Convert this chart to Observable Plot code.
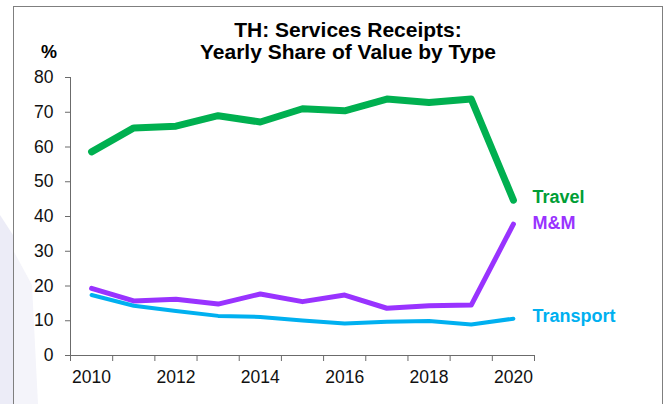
<!DOCTYPE html>
<html>
<head>
<meta charset="utf-8">
<script src="https://cdn.jsdelivr.net/npm/d3@7"></script>
<script src="https://cdn.jsdelivr.net/npm/@observablehq/plot@0.6"></script>
<style>
  html, body { margin: 0; padding: 0; background: #fff; }
  #wrap { position: relative; width: 669px; height: 404px; overflow: hidden; font-family: "Liberation Sans", Arial, sans-serif; }
  #deco { position: absolute; left: 0; top: 0; }
  #frame { position: absolute; left: 13px; top: 6px; width: 650px; height: 420px; border: 1px solid #7f7f7f; box-sizing: border-box; }
  #chart { position: absolute; left: 0; top: 0; }
  #title { position: absolute; left: 348px; top: 19px; transform: translateX(-50%); white-space: nowrap; text-align: center; font-weight: bold; font-size: 21px; line-height: 22px; color: #000; }
  #unit { position: absolute; left: 49px; top: 42px; transform: translateX(-50%); font-weight: bold; font-size: 18px; line-height: 20px; color: #000; }
</style>
</head>
<body>
<div id="wrap">
  <svg id="deco" width="669" height="404">
    <polygon points="0,215 13,235 13,404 0,404" fill="#ececf7"/>
    <polygon points="13,250 32,285 38,404 13,404" fill="#f4f4fa"/>
  </svg>
  <div id="frame"></div>
  <div id="chart"></div>
  <div id="title">TH: Services Receipts:<br>Yearly Share of Value by Type</div>
  <div id="unit">%</div>
</div>
<script>
const years = [2010, 2011, 2012, 2013, 2014, 2015, 2016, 2017, 2018, 2019, 2020];
const travel = [58.6, 65.5, 66.0, 69.0, 67.2, 71.0, 70.4, 73.8, 72.8, 73.8, 44.7];
const mm = [19.3, 15.7, 16.2, 14.8, 17.7, 15.5, 17.4, 13.6, 14.3, 14.5, 37.8];
const transport = [17.4, 14.3, 12.8, 11.4, 11.1, 10.1, 9.2, 9.7, 9.9, 8.9, 10.6];
const seriesNames = ["Travel", "M&M", "Transport"];
const yTicks = [0, 10, 20, 30, 40, 50, 60, 70, 80];
const xTickLabels = [2010, 2012, 2014, 2016, 2018, 2020];

const lineColors = {"Travel": "#00b050", "M&M": "#9933ff", "Transport": "#00b0f0"};
const labelColors = {"Travel": "#009e36", "M&M": "#9933ff", "Transport": "#00b0f0"};
const widths = {"Travel": 7, "M&M": 5, "Transport": 4};
const labelDy = {"Travel": -3, "M&M": -1, "Transport": -2};

const valuesBySeries = {"Travel": travel, "M&M": mm, "Transport": transport};
const rows = seriesNames.flatMap(s => years.map((yr, i) => ({series: s, year: yr, value: valuesBySeries[s][i]})));
const lastRows = seriesNames.map(s => ({series: s, year: years[years.length - 1], value: valuesBySeries[s][years.length - 1]}));

const xMin = years[0] - 0.5, xMax = years[years.length - 1] + 0.5;
const bandEdges = years.map(y => y - 0.5).concat([xMax]);

const axisColor = "#6b6b6b";

const marks = [
  Plot.ruleX([xMin], {y1: yTicks[0], y2: yTicks[yTicks.length - 1], stroke: axisColor}),
  Plot.ruleY([0], {stroke: axisColor}),
  Plot.axisY(yTicks, {tickSize: 5, tickPadding: 12, fontSize: 17.5, stroke: axisColor, fill: "#111", label: null}),
  Plot.axisX(bandEdges, {tickSize: 6, tickFormat: () => "", stroke: axisColor, label: null}),
  Plot.axisX(xTickLabels, {tickSize: 0, tickPadding: 15, fontSize: 17.5, fill: "#111", tickFormat: d => String(d), label: null})
];
for (const s of seriesNames) {
  marks.push(Plot.line(rows.filter(r => r.series === s), {
    x: "year", y: "value", stroke: lineColors[s], strokeWidth: widths[s],
    strokeLinecap: "round", strokeLinejoin: "round"
  }));
}
for (const s of seriesNames) {
  marks.push(Plot.text(lastRows.filter(r => r.series === s), {
    x: "year", y: "value", text: "series", textAnchor: "start", dx: 19, dy: labelDy[s],
    fill: labelColors[s], fontWeight: "bold", fontSize: 18
  }));
}

const chart = Plot.plot({
  width: 669,
  height: 404,
  marginLeft: 70,
  marginRight: 135,
  marginTop: 77,
  marginBottom: 49,
  style: {fontFamily: "'Liberation Sans', Arial, sans-serif", background: "transparent", color: "#111", overflow: "visible"},
  x: {domain: [xMin, xMax]},
  y: {domain: [yTicks[0], yTicks[yTicks.length - 1]]},
  marks
});
document.getElementById("chart").appendChild(chart);
</script>
</body>
</html>
